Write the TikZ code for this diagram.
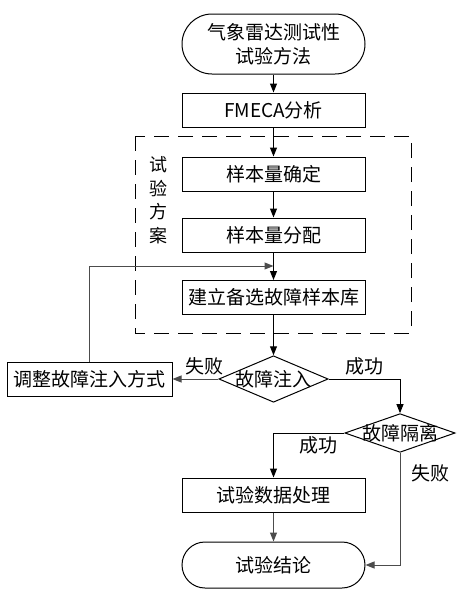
\documentclass[tikz,border=0pt]{standalone}
\usepackage{fontspec}
\setmainfont{Noto Sans CJK SC}
\usetikzlibrary{shapes.geometric,arrows.meta}
\tikzset{
  box/.style={draw,line width=1pt,minimum width=183pt,minimum height=34pt,inner sep=0pt},
  term/.style={draw,line width=1pt,minimum width=183pt,inner sep=0pt,align=center},
  test/.style={draw,diamond,line width=1pt,inner ysep=0pt},
  flow/.style={-{Triangle[length=9pt,width=7pt]},line width=1pt},
  back/.style={flow,draw=black!70},
  frame/.style={line width=1pt,dash pattern=on 15pt off 9pt},
}
\begin{document}
\begin{tikzpicture}[x=1pt,y=-1pt,font=\fontsize{19}{24}\selectfont]
  \useasboundingbox (0,0) rectangle (466,595);
  \draw[frame] (135,136) rectangle (411,333);
  \draw
    (273.5,44) node[term,minimum height=60pt,rounded corners=30pt] (start){气象雷达测试性\\试验方法}
    (273.5,110) node[box] (fmeca){FMECA分析}
    (273.5,174) node[box] (size){样本量确定}
    (273.5,235) node[box] (alloc){样本量分配}
    (273.5,297.5) node[box] (lib){建立备选故障样本库}
    (273.5,379) node[test,aspect=2.35,inner xsep=-4pt] (inject){故障注入}
    (89.5,379) node[box,minimum width=165pt] (adjust){调整故障注入方式}
    (400,433) node[test,aspect=2.85,inner xsep=-8pt] (isolate){故障隔离}
    (273.5,495) node[box] (data){试验数据处理}
    (273.5,565) node[term,minimum height=46pt,rounded corners=23pt] (end){试验结论}
    (158,200) node[align=center,font=\fontsize{18}{23.5}\selectfont] (plan){试\\验\\方\\案};
  \coordinate (merge) at (273.5,266);
  \begin{scope}[flow]
    \draw (start) to (fmeca);
    \draw (fmeca) to (size);
    \draw (size) to (alloc);
    \draw (alloc) to (lib);
    \draw (lib) to (inject);
    \draw (inject.east) -| node[above,pos=0.25]{成功} (isolate.north);
    \draw (isolate.west) -| node[below,pos=0.18]{成功} (data.north);
  \end{scope}
  \begin{scope}[back]
    \draw (inject) to node[above,pos=0.3]{失败} (adjust);
    \draw (adjust.north) |- (merge);
    \draw (data) to (end);
    \draw (isolate.south) |- node[right,pos=0.09,xshift=8pt]{失败} (end.east);
  \end{scope}
\end{tikzpicture}
\end{document}
